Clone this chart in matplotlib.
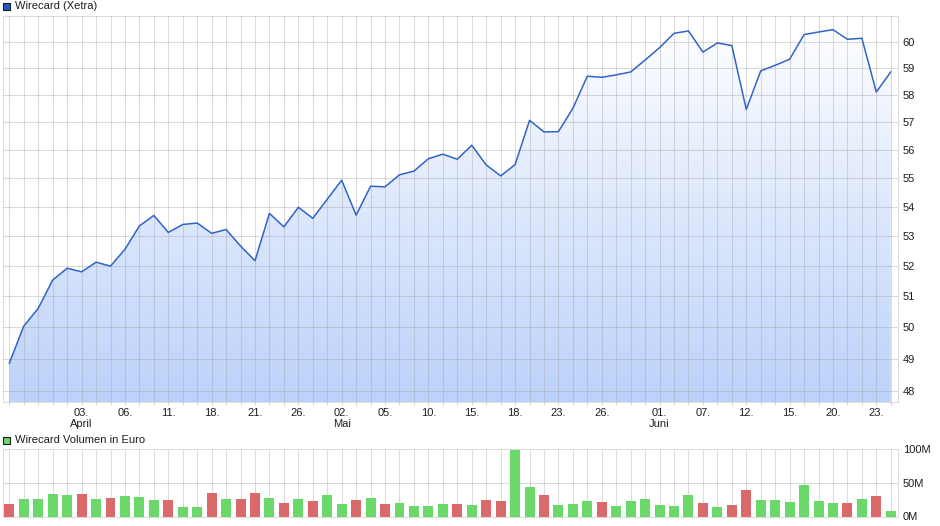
import numpy as np
import matplotlib
matplotlib.use('Agg')
import matplotlib.pyplot as plt
from matplotlib.colors import LinearSegmentedColormap
from matplotlib.patches import Rectangle
from matplotlib.ticker import FixedLocator, FixedFormatter, NullLocator

plt.rcParams['font.family'] = ['Liberation Sans', 'DejaVu Sans']

# Wirecard Xetra closing prices, one value per trading day (27.03.2017 - 26.06.2017)
price = [48.87, 50.04, 50.61, 51.53, 51.92, 51.80, 52.12, 51.99, 52.55, 53.34,
         53.70, 53.12, 53.39, 53.44, 53.09, 53.22, 52.66, 52.17, 53.77, 53.31,
         53.98, 53.60, 54.26, 54.92, 53.71, 54.71, 54.69, 55.11, 55.24, 55.68,
         55.84, 55.66, 56.16, 55.46, 55.07, 55.47, 57.06, 56.64, 56.65, 57.50,
         58.69, 58.65, 58.74, 58.85, 59.30, 59.77, 60.32, 60.41, 59.60, 59.95,
         59.85, 57.46, 58.89, 59.10, 59.33, 60.27, 60.37, 60.46, 60.09, 60.13,
         58.10, 58.85]
PREV_CLOSE = 49.10  # close before the first day (first bar is red)

# traded volume in Mio. Euro
volume = [18.4, 25.9, 25.9, 33.3, 31.8, 33.3, 25.9, 27.4, 30.3, 28.9,
          24.4, 24.4, 13.9, 13.9, 34.8, 25.9, 25.9, 34.8, 27.4, 19.9,
          25.9, 22.9, 31.8, 18.4, 24.4, 27.4, 18.4, 19.9, 15.4, 15.4,
          18.4, 18.4, 16.9, 24.4, 22.9, 99.0, 43.8, 31.8, 16.9, 18.4,
          22.9, 21.4, 15.4, 22.9, 25.9, 16.9, 15.4, 31.8, 19.9, 13.9,
          16.9, 39.3, 24.4, 24.4, 21.4, 46.8, 22.9, 19.9, 19.9, 25.9,
          30.3, 8.0]

tick_idx = [5, 8, 11, 14, 17, 20, 23, 26, 29, 32, 35, 38, 41, 45, 48, 51, 54, 57, 60]
tick_labels = ['03.\nApril', '06.', '11.', '18.', '21.', '26.', '02.\nMai', '05.', '10.',
               '15.', '18.', '23.', '26.', '01.\nJuni', '07.', '12.', '15.', '20.', '23.']
price_ticks = [48, 49, 50, 51, 52, 53, 54, 55, 56, 57, 58, 59, 60]
vol_ticks = [0, 50, 100]
vol_tick_labels = ['0M', '50M', '100M']

W, H = 940, 526
YMIN, YMAX = 47.67, 60.99
GRID_COLOR = '#9c9c9c'
GRID_ALPHA = 0.36
TXT = '#1e1e1e'
FS = 8

x = np.arange(len(price))

fig = plt.figure(figsize=(W / 100, H / 100), dpi=100)
ax = fig.add_axes([3 / W, 1 - 402 / H, 895 / W, 386 / H])
axv = fig.add_axes([3 / W, 1 - 516.5 / H, 895 / W, 67.2 / H])

# --- price chart ---
ax.set_yscale('log')
grad = np.linspace(0, 1, 256).reshape(-1, 1)
cmap = LinearSegmentedColormap.from_list('wc', ['#bcd2fa', '#ffffff'])
im = ax.imshow(grad, cmap=cmap, extent=[0, 1, 0, 1], transform=ax.transAxes,
               origin='lower', aspect='auto', zorder=1)
poly = ax.fill_between(x, price, YMIN, facecolor='none', edgecolor='none')
im.set_clip_path(poly.get_paths()[0], transform=ax.transData)
ax.plot(x, price, color='#3064c8', lw=1.1, zorder=3)

ax.set_xlim(-0.44, 61.5)
ax.set_ylim(YMIN, YMAX)

ax.yaxis.tick_right()
ax.yaxis.set_major_locator(FixedLocator(price_ticks))
ax.yaxis.set_major_formatter(FixedFormatter([str(t) for t in price_ticks]))
ax.yaxis.set_minor_locator(NullLocator())
ax.tick_params(axis='y', length=0, pad=3.5, labelsize=FS, labelcolor=TXT)

ax.xaxis.set_major_locator(FixedLocator(tick_idx))
ax.xaxis.set_major_formatter(FixedFormatter(tick_labels))
ax.xaxis.set_minor_locator(FixedLocator(x))
ax.tick_params(axis='x', which='both', length=2, width=0.75, color='#d0d0d0', pad=2,
               labelsize=FS, labelcolor=TXT)
for lab in ax.get_xticklabels():
    lab.set_multialignment('center')

ax.set_axisbelow(False)
ax.grid(True, which='both', color=GRID_COLOR, alpha=GRID_ALPHA, lw=0.75)
for sp in ax.spines.values():
    sp.set_color('#dcdcdc')
    sp.set_linewidth(0.75)

# --- volume chart ---
up = np.diff(price, prepend=PREV_CLOSE) >= 0
colors = ['#6ad96a' if u else '#da6a6a' for u in up]
axv.bar(x, volume, width=0.69, color=colors, zorder=3)
axv.set_xlim(-0.44, 61.5)
axv.set_ylim(0, 100)
axv.yaxis.tick_right()
axv.set_yticks(vol_ticks)
axv.set_yticklabels(vol_tick_labels)
axv.tick_params(axis='y', length=0, pad=3.5, labelsize=FS, labelcolor=TXT)
axv.xaxis.set_major_locator(FixedLocator(x))
axv.tick_params(axis='x', length=0, labelbottom=False)
axv.set_axisbelow(True)
axv.grid(True, color=GRID_COLOR, alpha=GRID_ALPHA, lw=0.75)
for sp in axv.spines.values():
    sp.set_color('#dcdcdc')
    sp.set_linewidth(0.75)

# --- legend boxes ---
fig.patches.append(Rectangle((3 / W, 1 - 9.5 / H), 7 / W, 7 / H, transform=fig.transFigure,
                             facecolor='#1f5bc4', edgecolor='#1a1a1a', lw=0.8))
fig.text(15 / W, 1 - 6 / H, 'Wirecard (Xetra)', va='center', fontsize=FS, color=TXT)
fig.patches.append(Rectangle((3.3 / W, 1 - 443.7 / H), 7 / W, 7 / H, transform=fig.transFigure,
                             facecolor='#6ad96a', edgecolor='#1a1a1a', lw=0.8))
fig.text(15 / W, 1 - 440.3 / H, 'Wirecard Volumen in Euro', va='center', fontsize=FS, color=TXT)

fig.savefig('out.png', dpi=100)
